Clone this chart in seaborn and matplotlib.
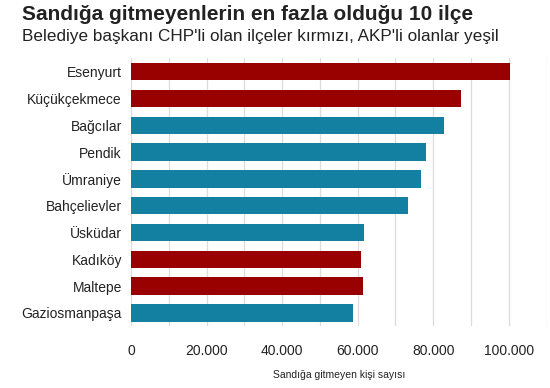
import pandas as pd
import matplotlib.pyplot as plt
import matplotlib.ticker as mticker
import seaborn as sns

# Data
districts = ['Esenyurt', 'Küçükçekmece', 'Bağcılar', 'Pendik', 'Ümraniye',
             'Bahçelievler', 'Üsküdar', 'Kadıköy', 'Maltepe', 'Gaziosmanpaşa']
non_voters = [100300, 87400, 82900, 78200, 76800, 73400, 61800, 60900, 61400, 58900]
parties = ['CHP', 'CHP', 'AKP', 'AKP', 'AKP', 'AKP', 'AKP', 'CHP', 'CHP', 'AKP']

party_colors = {'CHP': '#990000', 'AKP': '#1380A1'}

sns.set_theme(style="white")
plt.rcParams['font.family'] = ['Liberation Sans', 'DejaVu Sans']
plt.rcParams['text.color'] = '#222222'

df = pd.DataFrame({'ilce': districts, 'sayi': non_voters, 'parti': parties})

fig = plt.figure(figsize=(5.5, 3.88), dpi=100)
ax = fig.add_axes([131 / 550, 1 - 326.4 / 388, (546.5 - 131) / 550, (326.4 - 58.3) / 388])

sns.barplot(data=df, x='sayi', y='ilce', hue='parti', palette=party_colors,
            dodge=False, legend=False, width=0.65, saturation=1, linewidth=0, ax=ax)

ax.set_xlim(0, 110000)
ax.xaxis.set_major_locator(mticker.FixedLocator([0, 20000, 40000, 60000, 80000, 100000]))
ax.xaxis.set_minor_locator(mticker.MultipleLocator(10000))
ax.xaxis.set_major_formatter(mticker.FuncFormatter(lambda v, p: f'{int(v):,}'.replace(',', '.')))
ax.grid(True, axis='x', which='both', color='#dcdcdc', linewidth=0.9)
ax.set_axisbelow(True)
for s in ax.spines.values():
    s.set_visible(False)

ax.tick_params(axis='x', which='both', length=0, labelsize=10, labelcolor='#222222', pad=13)
ax.tick_params(axis='y', length=0, labelsize=10, labelcolor='#222222', pad=6.5)
ax.set_ylabel('')
ax.set_xlabel('Sandığa gitmeyen kişi sayısı', fontsize=7.5, color='#222222', labelpad=8)

fig.text(22 / 550, 1 - 15 / 388, 'Sandığa gitmeyenlerin en fazla olduğu 10 ilçe',
         fontsize=15, fontweight='bold', va='center', ha='left', color='#222222')
fig.text(22 / 550, 1 - 37 / 388, "Belediye başkanı CHP'li olan ilçeler kırmızı, AKP'li olanlar yeşil",
         fontsize=12.3, va='center', ha='left', color='#222222')

fig.savefig('out.png', dpi=100)
